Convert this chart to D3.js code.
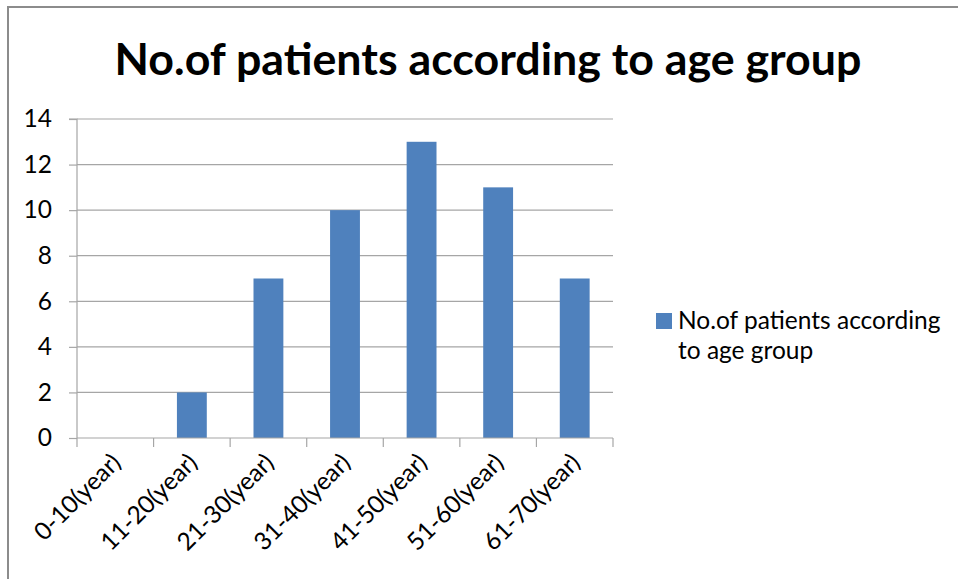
<!DOCTYPE html>
<html>
<head>
<meta charset="utf-8">
<script src="https://cdn.jsdelivr.net/npm/d3@7"></script>
<style>
  html, body { margin: 0; padding: 0; background: #fff; }
  svg { display: block; }
  text { font-family: Lato, "Open Sans", sans-serif; fill: #000; }
</style>
</head>
<body>
<svg id="chart" width="958" height="579"></svg>
<script>
const categories = ["0-10(year)", "11-20(year)", "21-30(year)", "31-40(year)", "41-50(year)", "51-60(year)", "61-70(year)"];
const values = [0, 2, 7, 10, 13, 11, 7];
const yTicks = [0, 2, 4, 6, 8, 10, 12, 14];
const titleText = "No.of patients according to age group";
const legendLines = ["No.of patients according", "to age group"];

const svg = d3.select("#chart");
const W = 958, H = 579;
const plot = { left: 77, right: 613, top: 119, bottom: 438 };
const fs = 24.5;

// outer frame (top and left edges visible)
svg.append("path")
  .attr("d", `M8,${H} L8,7 L${W},7`)
  .attr("fill", "none").attr("stroke", "#8c8c8c").attr("stroke-width", 2);

const x = d3.scaleBand().domain(categories).range([plot.left, plot.right]).paddingInner(0.61).paddingOuter(0.305);
const xEdges = d3.scaleLinear().domain([0, categories.length]).range([plot.left, plot.right]);
const y = d3.scaleLinear().domain([0, 14]).range([plot.bottom, plot.top]);

// gridlines
svg.append("g").selectAll("line").data(yTicks.filter(d => d > 0)).join("line")
  .attr("x1", plot.left).attr("x2", plot.right)
  .attr("y1", d => y(d)).attr("y2", d => y(d))
  .attr("stroke", "#a6a6a6").attr("stroke-width", 1.2);

// bars
svg.append("g").selectAll("rect").data(values).join("rect")
  .attr("x", (d, i) => x(categories[i]))
  .attr("width", x.bandwidth())
  .attr("y", d => y(d))
  .attr("height", d => y(0) - y(d))
  .attr("fill", "#4f81bd");

// y axis
const yAxis = d3.axisLeft(y).tickValues(yTicks).tickSize(8).tickPadding(17).tickFormat(d3.format("d"));
const gy = svg.append("g").attr("transform", `translate(${plot.left},0)`).call(yAxis);
gy.select(".domain").attr("stroke", "#a6a6a6").attr("stroke-width", 1.2).attr("d", `M-8,${plot.top}H0V${plot.bottom}`);
gy.selectAll(".tick line").attr("stroke", "#a6a6a6").attr("stroke-width", 1.2);
gy.selectAll(".tick text").attr("font-size", fs).attr("font-family", "Lato").attr("fill", "#000");

// x axis with ticks at category edges
const gx = svg.append("g");
gx.append("line").attr("x1", plot.left).attr("x2", plot.right).attr("y1", plot.bottom).attr("y2", plot.bottom)
  .attr("stroke", "#a6a6a6").attr("stroke-width", 1.2);
gx.selectAll("line.tk").data(d3.range(categories.length + 1)).join("line").attr("class", "tk")
  .attr("x1", d => xEdges(d)).attr("x2", d => xEdges(d))
  .attr("y1", plot.bottom).attr("y2", plot.bottom + 9)
  .attr("stroke", "#a6a6a6").attr("stroke-width", 1.2);
gx.selectAll("text").data(categories).join("text")
  .attr("transform", d => `translate(${x(d) + x.bandwidth() / 2 + 7},${plot.bottom + 26}) rotate(-45)`)
  .attr("text-anchor", "end")
  .attr("font-size", fs)
  .text(d => d);

// title
const title = svg.append("text")
  .attr("x", 488).attr("y", 75)
  .attr("text-anchor", "middle")
  .attr("font-weight", "bold")
  .attr("font-size", 40)
  .text(titleText);
const tw = title.node().getComputedTextLength();
title.attr("font-size", 40 * 747 / tw);

// legend
const leg = svg.append("g");
leg.append("rect").attr("x", 656).attr("y", 313).attr("width", 16).attr("height", 16).attr("fill", "#4f81bd");
const lt = leg.append("text").attr("font-size", fs);
lt.selectAll("tspan").data(legendLines).join("tspan")
  .attr("x", 678).attr("y", (d, i) => 329 + i * 30)
  .text(d => d);
</script>
</body>
</html>
